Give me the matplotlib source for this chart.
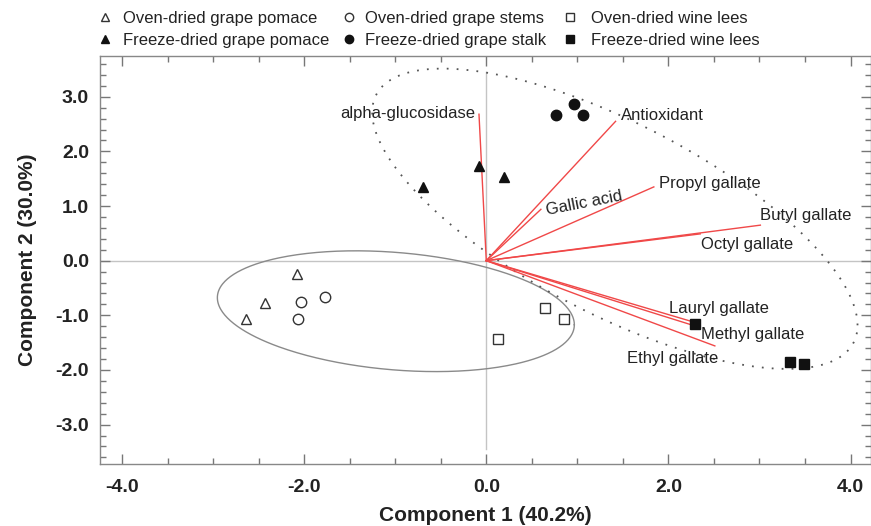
import numpy as np
import matplotlib
matplotlib.use("Agg")
import matplotlib.pyplot as plt
from matplotlib.lines import Line2D
from matplotlib.ticker import MultipleLocator, FormatStrFormatter

plt.rcParams["font.family"] = ["Liberation Sans", "DejaVu Sans"]

# PCA scores (component 1, component 2)
oven_pomace_x = [-2.08, -2.43, -2.64]
oven_pomace_y = [-0.24, -0.77, -1.07]
oven_stems_x = [-2.04, -1.77, -2.07]
oven_stems_y = [-0.76, -0.67, -1.07]
oven_lees_x = [0.64, 0.85, 0.13]
oven_lees_y = [-0.86, -1.07, -1.44]
freeze_pomace_x = [-0.70, -0.08, 0.19]
freeze_pomace_y = [1.35, 1.74, 1.53]
freeze_stalk_x = [0.77, 0.96, 1.06]
freeze_stalk_y = [2.66, 2.86, 2.66]
freeze_lees_x = [2.29, 3.34, 3.49]
freeze_lees_y = [-1.16, -1.85, -1.89]

# loadings (end points of the red vectors)
var_names = ["alpha-glucosidase", "Antioxidant", "Gallic acid", "Propyl gallate",
             "Butyl gallate", "Octyl gallate", "Lauryl gallate", "Methyl gallate",
             "Ethyl gallate"]
load_x = [-0.08, 1.42, 0.60, 1.84, 3.01, 2.35, 2.27, 2.34, 2.51]
load_y = [2.68, 2.55, 0.94, 1.35, 0.65, 0.49, -1.12, -1.22, -1.56]
label_x = [-0.12, 1.48, 1.08, 1.90, 3.01, 2.36, 2.01, 2.36, 1.55]
label_y = [2.70, 2.65, 1.06, 1.41, 0.82, 0.30, -0.88, -1.35, -1.79]

# group ellipses: centre, x half-width, y shear terms
oven_ell = (-0.993, -0.925, 1.96, -0.2475, 1.077)
freeze_ell = (1.412, 0.767, 2.665, -1.95, 1.936)


def ellipse_xy(cx, cy, a, b, d, n=400):
    t = np.linspace(0, 2 * np.pi, n)
    return cx + a * np.cos(t), cy + b * np.cos(t) + d * np.sin(t)


fig = plt.figure(figsize=(8.71, 5.26), dpi=100)
ax = fig.add_axes([0.115, 0.118, 0.8845, 0.776])

ax.axhline(0, color="#c4c4c4", lw=1.0, zorder=1)
ax.plot([0, 0], [-3.45, 3.45], color="#c4c4c4", lw=1.0, zorder=1)

ex, ey = ellipse_xy(*oven_ell)
ax.plot(ex, ey, color="#8a8a8a", lw=1.0, zorder=2)
ex, ey = ellipse_xy(*freeze_ell)
ax.plot(ex, ey, color="#555555", lw=1.3, ls=(0, (1, 4.5)), zorder=2)

for x, y in zip(load_x, load_y):
    ax.plot([0, x], [0, y], color="#f04848", lw=1.0, zorder=3)

for name, x, y in zip(var_names, label_x, label_y):
    ha = "right" if name == "alpha-glucosidase" else "left"
    rot = 11 if name == "Gallic acid" else 0
    if rot:
        ha = "center"
    ax.text(x, y, name, ha=ha, va="center", rotation=rot, fontsize=12,
            color="#222222", zorder=5)

ms = 7.5
edge = "#333333"
ax.plot(oven_pomace_x, oven_pomace_y, "^", ms=ms, mfc="white", mec=edge, mew=1.0, ls="none", zorder=4)
ax.plot(oven_stems_x, oven_stems_y, "o", ms=ms, mfc="white", mec=edge, mew=1.0, ls="none", zorder=4)
ax.plot(oven_lees_x, oven_lees_y, "s", ms=ms - 0.5, mfc="white", mec=edge, mew=1.0, ls="none", zorder=4)
ax.plot(freeze_pomace_x, freeze_pomace_y, "^", ms=ms, color="#111111", ls="none", zorder=4)
ax.plot(freeze_stalk_x, freeze_stalk_y, "o", ms=ms, color="#111111", ls="none", zorder=4)
ax.plot(freeze_lees_x, freeze_lees_y, "s", ms=ms - 0.5, color="#111111", ls="none", zorder=4)

ax.set_xlim(-4.24, 4.22)
ax.set_ylim(-3.72, 3.75)
ax.xaxis.set_major_locator(MultipleLocator(2.0))
ax.xaxis.set_minor_locator(MultipleLocator(0.5))
ax.yaxis.set_major_locator(MultipleLocator(1.0))
ax.yaxis.set_minor_locator(MultipleLocator(0.2))
ax.xaxis.set_major_formatter(FormatStrFormatter("%.1f"))
ax.yaxis.set_major_formatter(FormatStrFormatter("%.1f"))
ax.tick_params(which="both", direction="in", top=True, right=True, colors="#777777",
               labelcolor="#222222", labelsize=14, width=1.0)
ax.tick_params(which="major", length=7)
ax.tick_params(which="minor", length=4)
for lab in ax.get_xticklabels() + ax.get_yticklabels():
    lab.set_fontweight("bold")
ax.tick_params(axis="x", pad=11)
ax.tick_params(axis="y", pad=8)
for sp in ax.spines.values():
    sp.set_color("#888888")
    sp.set_linewidth(1.0)

ax.set_xlabel("Component 1 (40.2%)", fontsize=15, fontweight="bold", color="#222222", labelpad=7)
ax.set_ylabel("Component 2 (30.0%)", fontsize=15, fontweight="bold", color="#222222", labelpad=13)

# legend: three columns, placed one by one
lm = 6
legend_cols = [
    (0.1125, 0.72, [("^", "white", "Oven-dried grape pomace"),
                    ("^", "#111111", "Freeze-dried grape pomace")]),
    (0.3927, 0.6, [("o", "white", "Oven-dried grape stems"),
                   ("o", "#111111", "Freeze-dried grape stalk")]),
    (0.6464, 0.9, [("s", "white", "Oven-dried wine lees"),
                   ("s", "#111111", "Freeze-dried wine lees")]),
]
for x0, pad, items in legend_cols:
    handles = [Line2D([], [], marker=m, ms=lm, mfc=fc, mec=edge if fc == "white" else fc, ls="none")
               for m, fc, _ in items]
    labels = [lab for _, _, lab in items]
    fig.legend(handles, labels, loc="upper left", bbox_to_anchor=(x0, 0.979),
               frameon=False, fontsize=12, handlelength=0.8, handletextpad=pad,
               labelspacing=0.4, borderaxespad=0, borderpad=0, labelcolor="#222222")

fig.savefig("out.png", dpi=100)
